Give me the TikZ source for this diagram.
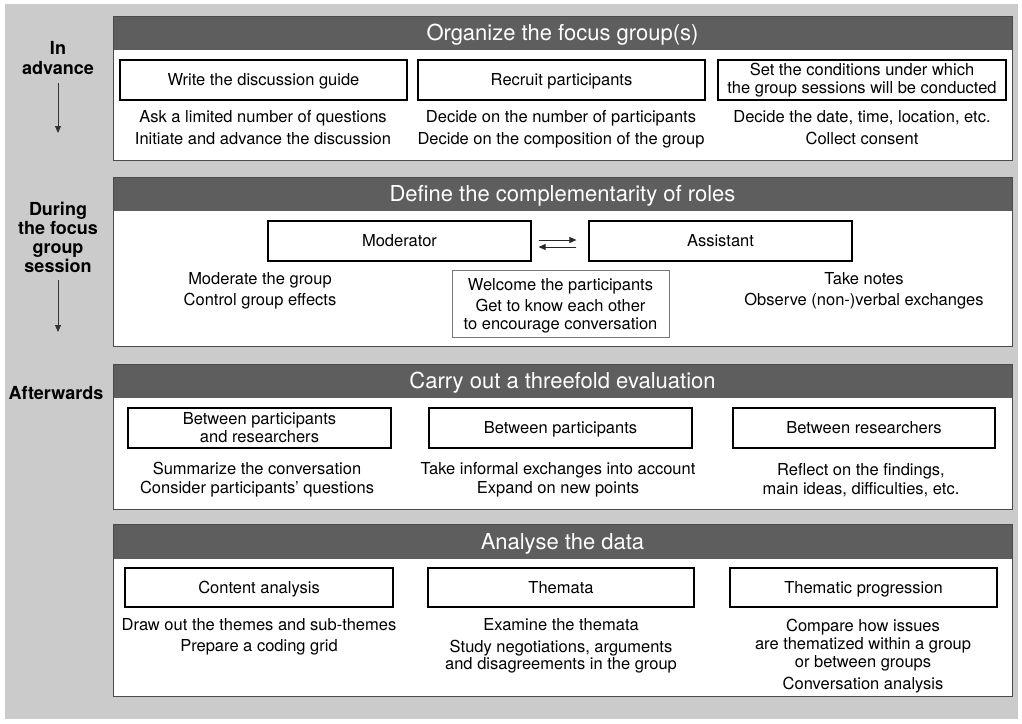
\documentclass[tikz,border=0pt]{standalone}
\usepackage{fontspec}
\setmainfont{TeX Gyre Heros}
\usetikzlibrary{arrows.meta}
\definecolor{bg}{HTML}{CBCBCB}
\definecolor{hdr}{HTML}{5E5E5E}
\definecolor{pborder}{HTML}{4A4A4A}
\definecolor{wborder}{HTML}{777777}
\newcommand\mytl[4]{\node[txt,anchor=base] (#1) at (#2,{#3+5.7}) {#4};}
\begin{document}
\begin{tikzpicture}[x=1pt,y=-1pt,
  panelfill/.style={fill=white},
  panelline/.style={draw=pborder, line width=1pt},
  hdrbar/.style={fill=hdr},
  ttl/.style={text=white, font=\fontsize{22}{24}\selectfont, inner sep=0pt, anchor=base},
  sbox/.style={draw=black, line width=1.2pt, minimum height=40pt, inner sep=0pt,
    font=\fontsize{16.5}{18}\selectfont, text height=12pt, text depth=1pt},
  sboxtwo/.style={draw=black, line width=1.2pt, minimum height=40pt, inner sep=0pt, align=center,
    font=\fontsize{16.5}{18}\selectfont},
  txt/.style={font=\fontsize{16.5}{18}\selectfont, inner sep=0pt},
  lbl/.style={font=\bfseries\fontsize{18}{20}\selectfont, inner sep=0pt, anchor=base},
  tarrow/.style={-{Triangle[length=7pt,width=6pt]}, line width=0.8pt, draw=black!85, fill=black!85},
  larrow/.style={-{Triangle[length=7pt,width=6pt]}, line width=0.8pt, draw=black!80, fill=black!80}]

\useasboundingbox (0,0) rectangle (1022,723);
\fill[bg] (5,4) rectangle (1018,719);

% ---------- left labels ----------
\node[lbl] (lin) at (58,54.5) {In};
\node[lbl] (ladv) at (58,74.5) {advance};
\coordinate (a1s) at (58,83);
\coordinate (a1e) at (58,133);
\draw[larrow] (a1s) -- (a1e);
\node[lbl] (ldur) at (58,215) {During};
\node[lbl] (lthe) at (58,234) {the focus};
\node[lbl] (lgrp) at (58,253) {group};
\node[lbl] (lses) at (58,272) {session};
\coordinate (a2s) at (58,280);
\coordinate (a2e) at (58,332);
\draw[larrow] (a2s) -- (a2e);
\node[lbl] (laft) at (56,399) {Afterwards};

% ---------- panel 1 ----------
\fill[panelfill] (113,16) rectangle (1012,160);
\fill[hdrbar] (113,16) rectangle (1012,50);
\draw[panelline] (113,16) rectangle (1012,160);
\node[ttl] (t1) at (562.5,40.5) {Organize the focus group(s)};
\node[sbox, minimum width=287pt] (b11) at (263.5,80) {Write the discussion guide};
\node[sbox, minimum width=287pt] (b12) at (561.5,80) {Recruit participants};
\node[sboxtwo, minimum width=288pt] (b13) at (862,80) {Set the conditions under which\\the group sessions will be conducted};
\mytl{p11}{263}{117}{Ask a limited number of questions}
\mytl{p12}{263}{139}{Initiate and advance the discussion}
\mytl{p13}{561}{117}{Decide on the number of participants}
\mytl{p14}{561}{139}{Decide on the composition of the group}
\mytl{p15}{862}{117}{Decide the date, time, location, etc.}
\mytl{p16}{862}{139}{Collect consent}

% ---------- panel 2 ----------
\fill[panelfill] (113,177) rectangle (1012,346);
\fill[hdrbar] (113,177) rectangle (1012,211);
\draw[panelline] (113,177) rectangle (1012,346);
\node[ttl] (t2) at (562.5,201.5) {Define the complementarity of roles};
\node[sbox, minimum width=263pt] (mod) at (399.5,241) {Moderator};
\node[sbox, minimum width=263pt] (asst) at (720.5,241) {Assistant};
\draw[tarrow, shorten <=7pt, shorten >=12pt] ([yshift=1pt]mod.east) -- ([yshift=1pt]asst.west);
\draw[tarrow, shorten <=12pt, shorten >=7pt] ([yshift=-6pt]asst.west) -- ([yshift=-6pt]mod.east);
\mytl{q11}{260}{279}{Moderate the group}
\mytl{q12}{260}{300}{Control group effects}
\node[draw=wborder, line width=0.9pt, minimum width=217pt, minimum height=67pt, inner sep=0pt] (wel) at (560.5,303.5) {};
\mytl{q21}{560.5}{285}{Welcome the participants}
\mytl{q22}{560.5}{306}{Get to know each other}
\mytl{q23}{560.5}{324}{to encourage conversation}
\mytl{q31}{864}{279}{Take notes}
\mytl{q32}{864}{300}{Observe (non-)verbal exchanges}

% ---------- panel 3 ----------
\fill[panelfill] (113,364) rectangle (1012,509);
\fill[hdrbar] (113,364) rectangle (1012,398);
\draw[panelline] (113,364) rectangle (1012,509);
\node[ttl] (t3) at (562.5,388.5) {Carry out a threefold evaluation};
\node[sboxtwo, minimum width=263pt] (b31) at (259.5,428) {Between participants\\and researchers};
\node[sbox, minimum width=263pt] (b32) at (560.5,428) {Between participants};
\node[sbox, minimum width=262pt] (b33) at (864,428) {Between researchers};
\mytl{r11}{257}{469}{Summarize the conversation}
\mytl{r12}{257}{488}{Consider participants’ questions}
\mytl{r21}{558}{469}{Take informal exchanges into account}
\mytl{r22}{558}{488}{Expand on new points}
\mytl{r31}{861}{470}{Reflect on the findings,}
\mytl{r32}{861}{489}{main ideas, difficulties, etc.}

% ---------- panel 4 ----------
\fill[panelfill] (113,524) rectangle (1012,696);
\fill[hdrbar] (113,524) rectangle (1012,559);
\draw[panelline] (113,524) rectangle (1012,696);
\node[ttl] (t4) at (562.5,549) {Analyse the data};
\node[sbox, minimum width=268pt, minimum height=39pt] (b41) at (259,587.5) {Content analysis};
\node[sbox, minimum width=266pt, minimum height=39pt] (b42) at (561,587.5) {Themata};
\node[sbox, minimum width=267pt, minimum height=39pt] (b43) at (863.5,587.5) {Thematic progression};
\mytl{s11}{259}{625}{Draw out the themes and sub-themes}
\mytl{s12}{259}{646}{Prepare a coding grid}
\mytl{s21}{561}{625}{Examine the themata}
\mytl{s22}{561}{647}{Study negotiations, arguments}
\mytl{s23}{561}{664}{and disagreements in the group}
\mytl{s31}{863}{626}{Compare how issues}
\mytl{s32}{863}{644}{are thematized within a group}
\mytl{s33}{863}{662}{or between groups}
\mytl{s34}{863}{684}{Conversation analysis}
\end{tikzpicture}
\end{document}
